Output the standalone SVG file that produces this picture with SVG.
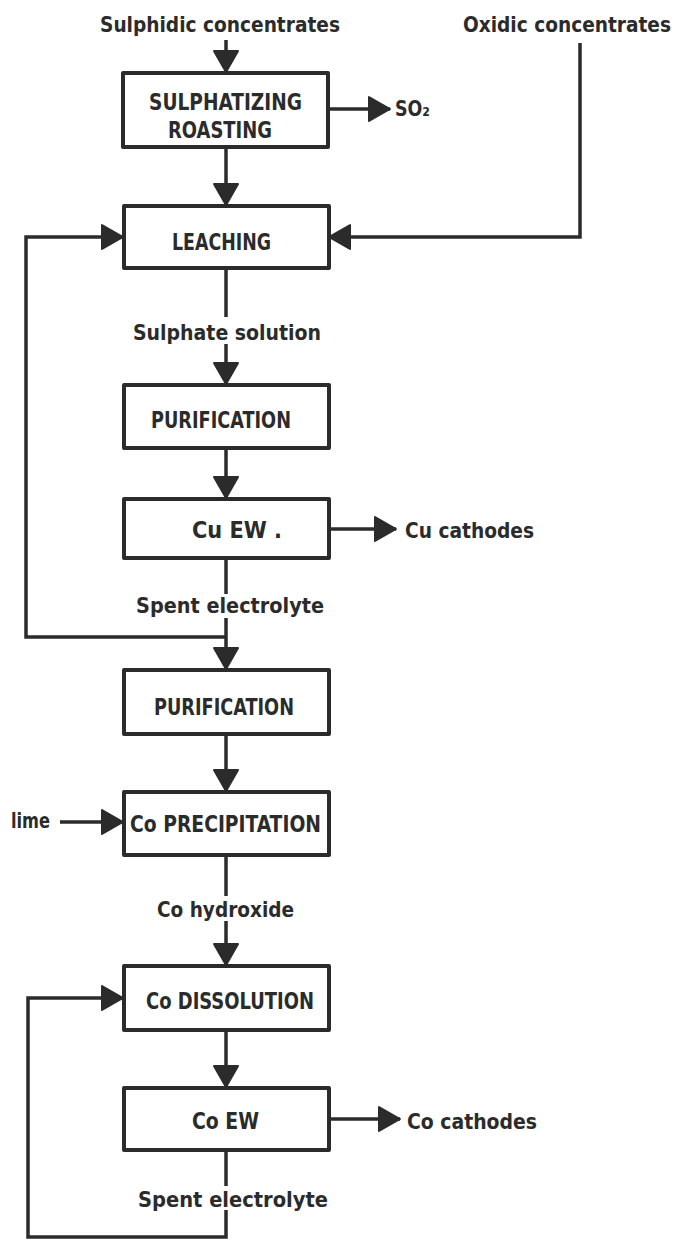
<svg xmlns="http://www.w3.org/2000/svg" width="674" height="1239" viewBox="0 0 674 1239">
<style>
.box{fill:#fff;stroke:#2b2b2b;stroke-width:4;stroke-linejoin:round}
.ln{fill:none;stroke:#2b2b2b;stroke-width:3.5;stroke-linejoin:miter}
.t{font-family:"DejaVu Sans Condensed","DejaVu Sans",sans-serif;font-weight:bold;fill:#2b2b2b;font-size:21px}
.c{font-size:23px}
</style>
<defs>
<marker id="ah" markerUnits="userSpaceOnUse" markerWidth="26" markerHeight="28" refX="23" refY="14" orient="auto" viewBox="0 0 26 28">
<path d="M2,2 L23,14 L2,26 Z" fill="#2b2b2b" stroke="#2b2b2b" stroke-width="2" stroke-linejoin="round"/>
</marker>
</defs>
<rect width="674" height="1239" fill="#fff"/>
<g id="connectors">
<line class="ln" x1="226" y1="40" x2="226" y2="72" marker-end="url(#ah)"/>
<line class="ln" x1="327" y1="109" x2="390" y2="109" marker-end="url(#ah)"/>
<line class="ln" x1="226" y1="147" x2="226" y2="205" marker-end="url(#ah)"/>
<polyline class="ln" points="580,43 580,237 329,237" marker-end="url(#ah)"/>
<line class="ln" x1="226" y1="268" x2="226" y2="317"/>
<line class="ln" x1="226" y1="344" x2="226" y2="384" marker-end="url(#ah)"/>
<line class="ln" x1="226" y1="448" x2="226" y2="498" marker-end="url(#ah)"/>
<line class="ln" x1="329" y1="529" x2="396" y2="529" marker-end="url(#ah)"/>
<line class="ln" x1="226" y1="558" x2="226" y2="594"/>
<line class="ln" x1="226" y1="618" x2="226" y2="669" marker-end="url(#ah)"/>
<polyline class="ln" points="226,637 26,637 26,237 123,237" marker-end="url(#ah)"/>
<line class="ln" x1="226" y1="734" x2="226" y2="791" marker-end="url(#ah)"/>
<line class="ln" x1="60" y1="822" x2="123" y2="822" marker-end="url(#ah)"/>
<line class="ln" x1="226" y1="855" x2="226" y2="896"/>
<line class="ln" x1="226" y1="921" x2="226" y2="965" marker-end="url(#ah)"/>
<line class="ln" x1="226" y1="1030" x2="226" y2="1087" marker-end="url(#ah)"/>
<line class="ln" x1="329" y1="1119" x2="400" y2="1119" marker-end="url(#ah)"/>
<line class="ln" x1="226" y1="1150" x2="226" y2="1186"/>
<polyline class="ln" points="226,1210 226,1237 28,1237 28,998 123,998" marker-end="url(#ah)"/>
</g>
<g id="labels">
<text class="t" x="100" y="32" textLength="240" lengthAdjust="spacingAndGlyphs">Sulphidic concentrates</text>
<text class="t" x="463" y="32" textLength="208" lengthAdjust="spacingAndGlyphs">Oxidic concentrates</text>
<text class="t" x="395" y="116" textLength="35" lengthAdjust="spacingAndGlyphs">SO₂</text>
<text class="t" x="133" y="340" textLength="188" lengthAdjust="spacingAndGlyphs">Sulphate solution</text>
<text class="t" x="405" y="538" textLength="129" lengthAdjust="spacingAndGlyphs">Cu cathodes</text>
<text class="t" x="136" y="613" textLength="188" lengthAdjust="spacingAndGlyphs">Spent electrolyte</text>
<text class="t" x="11" y="828" textLength="39" lengthAdjust="spacingAndGlyphs">lime</text>
<text class="t" x="157" y="917" textLength="137" lengthAdjust="spacingAndGlyphs">Co hydroxide</text>
<text class="t" x="407" y="1129" textLength="130" lengthAdjust="spacingAndGlyphs">Co cathodes</text>
<text class="t" x="138" y="1207" textLength="190" lengthAdjust="spacingAndGlyphs">Spent electrolyte</text>
</g>
<g id="roasting">
<rect class="box" x="123" y="73" width="205" height="74"/>
<text class="t c" x="149" y="110" textLength="153" lengthAdjust="spacingAndGlyphs">SULPHATIZING</text>
<text class="t c" x="168" y="138" textLength="104" lengthAdjust="spacingAndGlyphs">ROASTING</text>
</g>
<g id="leaching">
<rect class="box" x="124" y="206" width="205" height="62"/>
<text class="t c" x="172" y="250" textLength="99" lengthAdjust="spacingAndGlyphs">LEACHING</text>
</g>
<g id="purification1">
<rect class="box" x="124" y="385" width="205" height="63"/>
<text class="t c" x="151" y="428" textLength="140" lengthAdjust="spacingAndGlyphs">PURIFICATION</text>
</g>
<g id="cuew">
<rect class="box" x="124" y="499" width="205" height="59"/>
<text class="t c" x="192" y="538" textLength="90" lengthAdjust="spacingAndGlyphs">Cu EW .</text>
</g>
<g id="purification2">
<rect class="box" x="124" y="670" width="205" height="64"/>
<text class="t c" x="154" y="715" textLength="140" lengthAdjust="spacingAndGlyphs">PURIFICATION</text>
</g>
<g id="coprecipitation">
<rect class="box" x="124" y="792" width="205" height="63"/>
<text class="t c" x="130" y="832" textLength="191" lengthAdjust="spacingAndGlyphs">Co PRECIPITATION</text>
</g>
<g id="codissolution">
<rect class="box" x="124" y="966" width="205" height="64"/>
<text class="t c" x="146" y="1009" textLength="168" lengthAdjust="spacingAndGlyphs">Co DISSOLUTION</text>
</g>
<g id="coew">
<rect class="box" x="124" y="1088" width="205" height="62"/>
<text class="t c" x="192" y="1129" textLength="67" lengthAdjust="spacingAndGlyphs">Co EW</text>
</g>
</svg>
